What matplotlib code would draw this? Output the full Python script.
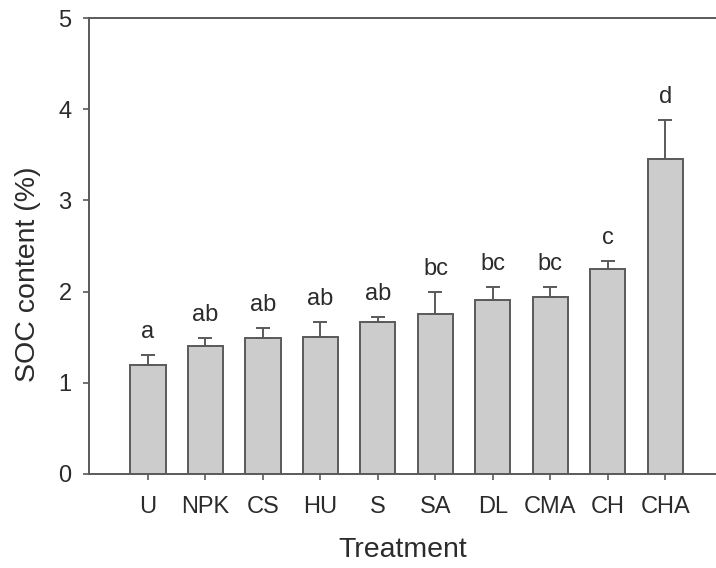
import matplotlib
matplotlib.use("Agg")
from matplotlib import pyplot as plt
import numpy as np

treatments = ["U", "NPK", "CS", "HU", "S", "SA", "DL", "CMA", "CH", "CHA"]
soc_mean = [1.20, 1.40, 1.49, 1.50, 1.67, 1.75, 1.91, 1.94, 2.25, 3.45]
soc_se = [0.11, 0.09, 0.11, 0.17, 0.05, 0.25, 0.14, 0.11, 0.09, 0.43]
letters = ["a", "ab", "ab", "ab", "ab", "bc", "bc", "bc", "c", "d"]

plt.rcParams["font.family"] = ["Liberation Sans", "DejaVu Sans"]
line_col = "#5a5a5a"
text_col = "#2b2b2b"

fig = plt.figure(figsize=(7.16, 5.68), dpi=100)
ax = fig.add_axes([0.1243, 0.1655, 0.8757, 0.8028])

x = np.arange(len(treatments))
mean = np.array(soc_mean)
se = np.array(soc_se)

ax.bar(x, mean, width=0.61, color="#cccccc", edgecolor=line_col,
       linewidth=1.4, zorder=2)
ax.errorbar(x, mean, yerr=[np.zeros_like(se), se], fmt="none",
            ecolor=line_col, elinewidth=1.4, capsize=5, capthick=1.4,
            zorder=3)

# significance letters sit just above each error bar
for xi, top, lab in zip(x, mean + se, letters):
    ax.text(xi, top + 0.25, lab, ha="center", va="center",
            fontsize=17, color=text_col)

ax.set_xlim(-1.026, 9.88)
ax.set_ylim(0, 5)
ax.set_yticks([0, 1, 2, 3, 4, 5])
ax.set_xticks(x)
ax.set_xticklabels(treatments)

ax.spines["right"].set_visible(False)
for side in ("left", "top", "bottom"):
    ax.spines[side].set_color(line_col)
    ax.spines[side].set_linewidth(1.4)

ax.tick_params(axis="both", direction="out", length=4.5, width=1.2,
               color=line_col, labelsize=17, labelcolor=text_col)
ax.tick_params(axis="x", pad=11)
ax.tick_params(axis="y", pad=8)

ax.set_xlabel("Treatment", fontsize=20.5, color=text_col)
ax.set_ylabel("SOC content (%)", fontsize=20.5, color=text_col)
ax.xaxis.set_label_coords(0.5, -0.138)
ax.yaxis.set_label_coords(-0.077, 0.4386)

fig.savefig("out.png", dpi=100)
